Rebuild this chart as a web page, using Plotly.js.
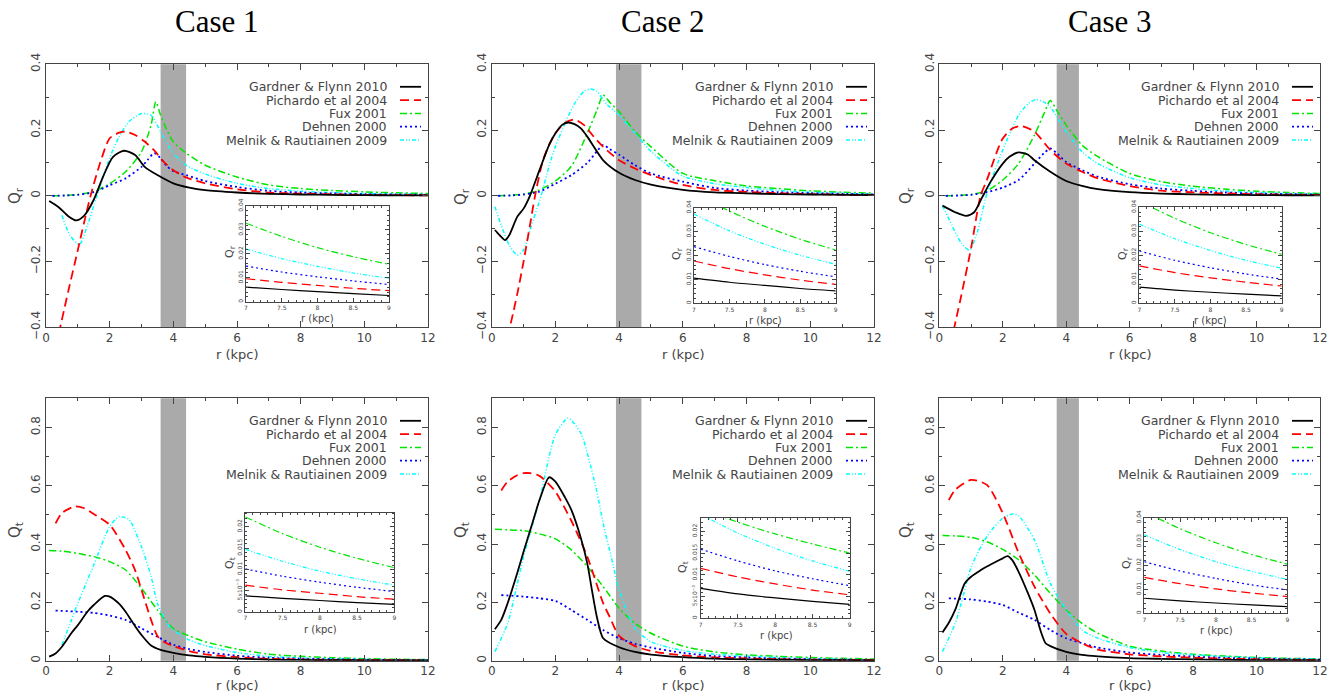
<!DOCTYPE html>
<html>
<head>
<meta charset="utf-8">
<script src="https://cdn.plot.ly/plotly-3.0.1.min.js"></script>
<style>html,body{margin:0;padding:0;background:#fff;}#chart{width:1330px;height:692px;}</style>
</head>
<body>
<div id="chart"></div>
<script>
// ---------------- DATA ----------------
const seriesNames = ['Gardner & Flynn 2010','Pichardo et al 2004','Fux 2001','Dehnen 2000','Melnik & Rautiainen 2009'];
const caseTitles = ['Case 1','Case 2','Case 3'];
const bands = [[3.6,4.4],[3.9,4.7],[3.7,4.4]];

// Case 1, Q_r
const c1qr_gf_r = [0.1,0.4,0.7,0.95,1.2,1.5,1.8,2.1,2.45,2.8,3.1,3.5,4.0,4.5,5,6,7,8,9,10,11,12];
const c1qr_gf_v = [-0.016,-0.035,-0.062,-0.075,-0.06,-0.012,0.06,0.118,0.137,0.124,0.088,0.063,0.038,0.025,0.017,0.01,0.006,0.004,0.0027,0.002,0.0015,0.001];
const c1qr_pi_r = [0.4,0.7,1.0,1.2,1.4,1.7,2.0,2.3,2.5,2.8,3.1,3.4,3.7,4.0,4.4,5,6,7,8,9,10,11,12];
const c1qr_pi_v = [-0.42,-0.29,-0.165,-0.08,0.0,0.1,0.175,0.192,0.195,0.185,0.165,0.138,0.103,0.078,0.056,0.038,0.02,0.0096,0.0068,0.0046,0.003,0.002,0.0015];
const c1qr_fux_r = [0.2,0.6,1.0,1.5,2.0,2.5,3.0,3.3,3.45,3.6,3.8,4.0,4.4,5,6,7,8,9,10,11,12];
const c1qr_fux_v = [0,0.001,0.004,0.013,0.037,0.073,0.134,0.215,0.286,0.245,0.2,0.164,0.13,0.093,0.057,0.033,0.022,0.016,0.012,0.009,0.007];
const c1qr_deh_r = [0.2,0.6,1.0,1.5,2.0,2.5,3.0,3.2,3.4,3.6,3.8,4.0,4.4,5,6,7,8,9,10,11,12];
const c1qr_deh_v = [0,0.001,0.003,0.011,0.032,0.053,0.088,0.11,0.13,0.114,0.09,0.075,0.063,0.045,0.027,0.015,0.01,0.0072,0.005,0.004,0.003];
const c1qr_mel_r = [0.5,0.75,1.05,1.3,1.6,2.0,2.3,2.6,3.0,3.3,3.6,4.0,4.4,5,6,7,8,9,10,11,12];
const c1qr_mel_v = [-0.059,-0.12,-0.148,-0.09,0.0,0.115,0.18,0.225,0.25,0.245,0.195,0.129,0.093,0.066,0.038,0.022,0.014,0.0098,0.007,0.005,0.004];

// Case 2, Q_r
const c2qr_gf_r = [0.1,0.25,0.42,0.55,0.8,1.0,1.2,1.5,1.8,2.0,2.2,2.4,2.6,2.8,3.0,3.5,4.0,4.5,5,6,7,8,9,10,11,12];
const c2qr_gf_v = [-0.104,-0.12,-0.135,-0.12,-0.064,-0.039,0.0,0.078,0.154,0.19,0.215,0.223,0.218,0.205,0.18,0.108,0.07,0.048,0.034,0.018,0.0105,0.0075,0.0052,0.004,0.003,0.002];
const c2qr_pi_r = [0.5,0.8,1.0,1.2,1.36,1.6,1.8,2.0,2.3,2.6,2.9,3.2,3.5,4.0,4.5,5,6,7,8,9,10,11,12];
const c2qr_pi_v = [-0.43,-0.3,-0.2,-0.09,0.0,0.105,0.155,0.19,0.222,0.232,0.215,0.18,0.149,0.108,0.083,0.063,0.033,0.0177,0.0118,0.0079,0.005,0.0035,0.0025];
const c2qr_fux_r = [0.2,0.6,1.0,1.5,2.0,2.5,3.0,3.3,3.5,3.7,4.0,4.5,5,6,7,8,9,10,11,12];
const c2qr_fux_v = [0,0.002,0.005,0.018,0.045,0.09,0.19,0.26,0.306,0.285,0.256,0.195,0.149,0.068,0.046,0.03,0.022,0.015,0.011,0.008];
const c2qr_deh_r = [0.2,0.6,1.0,1.5,2.0,2.5,3.0,3.3,3.5,3.7,4.0,4.5,5,6,7,8,9,10,11,12];
const c2qr_deh_v = [0,0.001,0.004,0.013,0.037,0.063,0.1,0.135,0.155,0.142,0.125,0.093,0.068,0.043,0.024,0.016,0.011,0.008,0.006,0.004];
const c2qr_mel_r = [0.1,0.3,0.55,0.8,1.0,1.2,1.55,1.8,2.0,2.3,2.6,2.9,3.1,3.3,3.6,4.0,4.5,5,6,7,8,9,10,11,12];
const c2qr_mel_v = [-0.033,-0.09,-0.15,-0.18,-0.165,-0.104,0.0,0.09,0.15,0.22,0.28,0.318,0.325,0.318,0.28,0.245,0.19,0.135,0.06,0.037,0.025,0.0163,0.011,0.008,0.005];

// Case 3, Q_r
const c3qr_gf_r = [0.1,0.5,0.85,1.1,1.35,1.6,2.0,2.2,2.5,2.8,3.0,3.5,4.0,4.5,5,6,7,8,9,10,11,12];
const c3qr_gf_v = [-0.03,-0.05,-0.061,-0.05,-0.005,0.04,0.098,0.118,0.132,0.125,0.108,0.073,0.045,0.03,0.02,0.011,0.0067,0.0045,0.0031,0.0022,0.0016,0.001];
const c3qr_pi_r = [0.45,0.7,1.0,1.3,1.5,1.8,2.0,2.3,2.6,3.0,3.5,4.0,4.5,5,6,7,8,9,10,11,12];
const c3qr_pi_v = [-0.41,-0.3,-0.16,0.0,0.048,0.13,0.174,0.205,0.212,0.195,0.139,0.098,0.073,0.053,0.03,0.0156,0.0106,0.0072,0.005,0.0035,0.0025];
const c3qr_fux_r = [0.2,0.6,1.0,1.5,2.0,2.5,3.0,3.3,3.5,3.7,4.0,4.5,5,6,7,8,9,10,11,12];
const c3qr_fux_v = [0,0.001,0.004,0.015,0.048,0.098,0.185,0.25,0.29,0.26,0.215,0.154,0.119,0.068,0.043,0.029,0.0204,0.014,0.01,0.007];
const c3qr_deh_r = [0.2,0.6,1.0,1.5,2.0,2.5,3.0,3.3,3.5,3.7,4.0,4.5,5,6,7,8,9,10,11,12];
const c3qr_deh_v = [0,0.001,0.003,0.011,0.025,0.048,0.098,0.13,0.144,0.13,0.103,0.078,0.058,0.035,0.022,0.015,0.0101,0.007,0.005,0.004];
const c3qr_mel_r = [0.1,0.4,0.7,0.95,1.2,1.5,2.0,2.5,2.8,3.05,3.3,3.5,4.0,4.5,5,6,7,8,9,10,11,12];
const c3qr_mel_v = [-0.03,-0.09,-0.145,-0.165,-0.11,0.007,0.139,0.245,0.28,0.293,0.285,0.27,0.195,0.134,0.098,0.055,0.033,0.022,0.0146,0.01,0.007,0.005];

// Case 1, Q_t
const c1qt_gf_r = [0.1,0.3,0.5,0.8,1.0,1.3,1.5,1.85,2.0,2.3,2.5,2.8,3.0,3.3,3.6,4.0,4.5,5,6,7,8,9,10,11,12];
const c1qt_gf_v = [0.014,0.025,0.048,0.095,0.122,0.168,0.191,0.222,0.22,0.195,0.168,0.118,0.088,0.052,0.037,0.027,0.018,0.013,0.007,0.0038,0.0027,0.0018,0.0013,0.001,0.0008];
const c1qt_pi_r = [0.3,0.5,0.9,1.2,1.5,2.0,2.5,2.8,3.0,3.3,3.5,3.7,4.0,4.5,5,6,7,8,9,10,11,12];
const c1qt_pi_v = [0.471,0.506,0.529,0.523,0.503,0.466,0.38,0.31,0.243,0.14,0.085,0.065,0.05,0.033,0.022,0.012,0.0063,0.0044,0.003,0.002,0.0015,0.001];
const c1qt_fux_r = [0.1,0.5,1.0,1.5,2.0,2.5,3.0,3.5,4.0,4.5,5,6,7,8,9,10,11,12];
const c1qt_fux_v = [0.378,0.376,0.368,0.357,0.34,0.311,0.248,0.174,0.11,0.085,0.065,0.04,0.0223,0.015,0.0104,0.007,0.005,0.004];
const c1qt_deh_r = [0.3,1.0,1.5,2.0,2.5,3.0,3.5,4.0,4.5,5,6,7,8,9,10,11,12];
const c1qt_deh_v = [0.172,0.168,0.164,0.155,0.14,0.111,0.082,0.055,0.04,0.03,0.017,0.0101,0.007,0.0048,0.0033,0.0024,0.0017];
const c1qt_mel_r = [0.5,0.8,1.0,1.5,2.0,2.3,2.6,3.0,3.3,3.5,3.8,4.0,4.5,5,6,7,8,9,10,11,12];
const c1qt_mel_v = [0.054,0.14,0.197,0.328,0.46,0.494,0.485,0.391,0.29,0.197,0.128,0.105,0.071,0.052,0.028,0.0147,0.0096,0.0063,0.0045,0.0033,0.0025];

// Case 2, Q_t
const c2qt_gf_r = [0.1,0.3,0.5,0.8,1.0,1.3,1.5,1.8,2.0,2.3,2.5,2.8,3.0,3.15,3.3,3.5,4.0,4.5,5,6,7,8,9,10,11,12];
const c2qt_gf_v = [0.108,0.14,0.197,0.3,0.374,0.48,0.551,0.629,0.614,0.56,0.517,0.42,0.334,0.24,0.151,0.077,0.046,0.03,0.021,0.012,0.0069,0.0047,0.0032,0.0023,0.0017,0.0012];
const c2qt_pi_r = [0.3,0.5,0.8,1.0,1.2,1.5,1.8,2.0,2.5,3.0,3.5,3.7,4.0,4.5,5,6,7,8,9,10,11,12];
const c2qt_pi_v = [0.584,0.614,0.636,0.643,0.643,0.634,0.605,0.58,0.48,0.357,0.197,0.151,0.085,0.05,0.033,0.018,0.0115,0.0079,0.0054,0.0037,0.0026,0.0018];
const c2qt_fux_r = [0.1,0.5,1.0,1.5,2.0,2.5,3.0,3.5,4.0,4.5,5,6,7,8,9,10,11,12];
const c2qt_fux_v = [0.451,0.449,0.446,0.435,0.418,0.38,0.323,0.254,0.18,0.128,0.094,0.05,0.03,0.02,0.015,0.011,0.008,0.006];
const c2qt_deh_r = [0.3,1.0,1.5,2.0,2.5,3.0,3.5,4.0,4.5,5,6,7,8,9,10,11,12];
const c2qt_deh_v = [0.225,0.22,0.214,0.205,0.174,0.14,0.105,0.077,0.058,0.045,0.027,0.0159,0.011,0.0075,0.005,0.0035,0.0025];
const c2qt_mel_r = [0.1,0.5,1.0,1.5,2.0,2.4,2.8,3.0,3.3,3.5,3.8,4.0,4.5,5,6,7,8,9,10,11,12];
const c2qt_mel_v = [0.031,0.128,0.357,0.551,0.775,0.832,0.78,0.712,0.58,0.471,0.334,0.243,0.111,0.065,0.035,0.022,0.016,0.0108,0.007,0.005,0.003];

// Case 3, Q_t
const c3qt_gf_r = [0.1,0.3,0.5,0.8,1.0,1.3,1.5,1.8,2.0,2.15,2.3,2.5,2.8,3.0,3.2,3.35,3.5,4.0,4.5,5,6,7,8,9,10,11,12];
const c3qt_gf_v = [0.097,0.13,0.174,0.265,0.288,0.31,0.323,0.34,0.351,0.359,0.345,0.305,0.23,0.174,0.1,0.06,0.05,0.03,0.02,0.015,0.009,0.0063,0.0043,0.0028,0.002,0.0015,0.001];
const c3qt_pi_r = [0.3,0.5,1.0,1.5,2.0,2.5,3.0,3.5,4.0,4.5,5,6,7,8,9,10,11,12];
const c3qt_pi_v = [0.551,0.586,0.62,0.603,0.506,0.37,0.254,0.162,0.092,0.06,0.038,0.022,0.015,0.0102,0.007,0.005,0.0035,0.0025];
const c3qt_fux_r = [0.1,0.5,1.0,1.5,2.0,2.5,3.0,3.5,4.0,4.5,5,6,7,8,9,10,11,12];
const c3qt_fux_v = [0.429,0.428,0.423,0.408,0.382,0.346,0.294,0.231,0.174,0.128,0.094,0.05,0.033,0.022,0.016,0.011,0.008,0.006];
const c3qt_deh_r = [0.3,1.0,1.5,2.0,2.5,3.0,3.5,4.0,4.5,5,6,7,8,9,10,11,12];
const c3qt_deh_v = [0.214,0.21,0.203,0.191,0.165,0.14,0.105,0.077,0.06,0.045,0.028,0.02,0.014,0.0098,0.007,0.005,0.0035];
const c3qt_mel_r = [0.1,0.5,0.7,1.0,1.5,2.0,2.3,2.5,3.0,3.5,4.0,4.5,5,6,7,8,9,10,11,12];
const c3qt_mel_v = [0.031,0.128,0.2,0.32,0.426,0.489,0.503,0.497,0.414,0.265,0.174,0.105,0.077,0.045,0.028,0.02,0.0142,0.01,0.007,0.005];

// Insets (r = 7 .. 9 kpc)
const insetR = [7,7.5,8,8.5,9];
const in1qr_gf = [0.0061,0.0051,0.0042,0.0034,0.0026];
const in1qr_pi = [0.0096,0.0081,0.0068,0.0056,0.0046];
const in1qr_fux = [0.0328,0.0273,0.0226,0.0188,0.0156];
const in1qr_deh = [0.0149,0.0124,0.0104,0.0087,0.0072];
const in1qr_mel = [0.0220,0.0180,0.0148,0.0120,0.0098];
const in2qr_gf = [0.0105,0.0088,0.0075,0.0062,0.0052];
const in2qr_pi = [0.0177,0.0145,0.0119,0.0097,0.0079];
const in2qr_fux = [0.0463,0.0386,0.0322,0.0268,0.0223];
const in2qr_deh = [0.0237,0.0196,0.0162,0.0134,0.0111];
const in2qr_mel = [0.0373,0.0303,0.0247,0.0201,0.0163];
const in3qr_gf = [0.0067,0.0055,0.0046,0.0038,0.0031];
const in3qr_pi = [0.0156,0.0128,0.0106,0.0088,0.0072];
const in3qr_fux = [0.0425,0.0354,0.0294,0.0245,0.0204];
const in3qr_deh = [0.0218,0.0179,0.0148,0.0122,0.0101];
const in3qr_mel = [0.0330,0.0269,0.0220,0.0179,0.0146];
const in1qt_gf = [0.0038,0.0032,0.0027,0.0022,0.0018];
const in1qt_pi = [0.0063,0.0052,0.0044,0.0036,0.0030];
const in1qt_fux = [0.0223,0.0184,0.0152,0.0126,0.0104];
const in1qt_deh = [0.0101,0.0084,0.0070,0.0058,0.0048];
const in1qt_mel = [0.0147,0.0119,0.0096,0.0078,0.0063];
const in2qt_gf = [0.0069,0.0056,0.0047,0.0039,0.0032];
const in2qt_pi = [0.0115,0.0095,0.0079,0.0065,0.0054];
const in2qt_fux = [0.0252,0.0221,0.0194,0.0171,0.0150];
const in2qt_deh = [0.0159,0.0132,0.0109,0.0091,0.0075];
const in2qt_mel = [0.0239,0.0196,0.0161,0.0132,0.0108];
const in3qt_gf = [0.0063,0.0052,0.0043,0.0035,0.0028];
const in3qt_pi = [0.0150,0.0124,0.0102,0.0085,0.0070];
const in3qt_fux = [0.0425,0.0354,0.0295,0.0246,0.0206];
const in3qt_deh = [0.0216,0.0177,0.0146,0.0119,0.0098];
const in3qt_mel = [0.0328,0.0267,0.0216,0.0176,0.0142];

const mainTickX = [0,2,4,6,8,10,12];
const qrTicks = [-0.4,-0.2,0,0.2,0.4];
const qrTickText = ['−0.4','−0.2','0','0.2','0.4'];
const qtTicks = [0,0.2,0.4,0.6,0.8];
const qtTickText = ['0','0.2','0.4','0.6','0.8'];
const insetXTicks = [7,7.5,8,8.5,9];
const insetXText = ['7','7.5','8','8.5','9'];
const insetYTicksA = [0,0.01,0.02,0.03,0.04];
const insetYTextA = ['0','0.01','0.02','0.03','0.04'];
const insetYTicksB = [0,0.005,0.01,0.015,0.02];
const insetYTextB = ['0','5x10<sup>−3</sup>','0.01','0.015','0.02'];
const mainYTitles = ['Q<sub>r</sub>','Q<sub>r</sub>','Q<sub>r</sub>','Q<sub>t</sub>','Q<sub>t</sub>','Q<sub>t</sub>'];
const insetYTitles = ['Q<sub>r</sub>','Q<sub>r</sub>','Q<sub>r</sub>','Q<sub>t</sub>','Q<sub>t</sub>','Q<sub>r</sub>'];
const xTitle = 'r (kpc)';

// ---------------- STYLE ----------------
const colors = ['#000000','#ff0000','#00e600','#0000ff','#00ffff'];
const dashes = ['solid','9px,5px','7px,3px,2px,3px','2px,3px','4px,2px,1px,2px,1px,2px'];
const widths = [1.8,1.8,1.5,1.8,1.5];
const W = 1330, H = 692;
const TXT = '#444';
const FONT = 'DejaVu Sans, Liberation Sans, sans-serif';

// panel pixel boxes [left, right, top, bottom]
const mainBoxes = [
  [46,428,64.3,327.3],[491.7,874,64.3,327.3],[939.3,1320,64.3,327.3],
  [46,428,398.3,660.7],[491.7,874,398.3,660.7],[939.3,1320,398.3,660.7]
];
const insetBoxes = [
  [246,389,206,301.7],[694,835.7,207.7,303.3],[1139.3,1281.7,207.3,303.3],
  [245.3,394.3,512.7,612],[700.7,849.7,518.3,618.3],[1144.3,1287.3,517.7,613.3]
];
// positions of axis-title texts [x, y] in pixels
const mainXTitlePos = [[237,354],[683,354],[1130,354],[237,685.5],[683,685.5],[1130,685.5]];
const mainYTitlePos = [[15,196],[461,196],[906,196],[15,530],[461,530],[906,530]];
const insetXTitlePos = [[317,318],[765,320],[1210,320],[320,629],[776,635],[1216,630]];
const insetYTitlePos = [[230,252],[677,254],[1123,254],[230,563],[683,567],[1127,563]];

const dx = b => [b[0]/W, b[1]/W];
const dy = b => [1-b[3]/H, 1-b[2]/H];
const px = x => x/W;
const py = y => 1-y/H;

const mainData = [
  [[c1qr_gf_r,c1qr_gf_v],[c1qr_pi_r,c1qr_pi_v],[c1qr_fux_r,c1qr_fux_v],[c1qr_deh_r,c1qr_deh_v],[c1qr_mel_r,c1qr_mel_v]],
  [[c2qr_gf_r,c2qr_gf_v],[c2qr_pi_r,c2qr_pi_v],[c2qr_fux_r,c2qr_fux_v],[c2qr_deh_r,c2qr_deh_v],[c2qr_mel_r,c2qr_mel_v]],
  [[c3qr_gf_r,c3qr_gf_v],[c3qr_pi_r,c3qr_pi_v],[c3qr_fux_r,c3qr_fux_v],[c3qr_deh_r,c3qr_deh_v],[c3qr_mel_r,c3qr_mel_v]],
  [[c1qt_gf_r,c1qt_gf_v],[c1qt_pi_r,c1qt_pi_v],[c1qt_fux_r,c1qt_fux_v],[c1qt_deh_r,c1qt_deh_v],[c1qt_mel_r,c1qt_mel_v]],
  [[c2qt_gf_r,c2qt_gf_v],[c2qt_pi_r,c2qt_pi_v],[c2qt_fux_r,c2qt_fux_v],[c2qt_deh_r,c2qt_deh_v],[c2qt_mel_r,c2qt_mel_v]],
  [[c3qt_gf_r,c3qt_gf_v],[c3qt_pi_r,c3qt_pi_v],[c3qt_fux_r,c3qt_fux_v],[c3qt_deh_r,c3qt_deh_v],[c3qt_mel_r,c3qt_mel_v]]
];
const insetData = [
  [in1qr_gf,in1qr_pi,in1qr_fux,in1qr_deh,in1qr_mel],
  [in2qr_gf,in2qr_pi,in2qr_fux,in2qr_deh,in2qr_mel],
  [in3qr_gf,in3qr_pi,in3qr_fux,in3qr_deh,in3qr_mel],
  [in1qt_gf,in1qt_pi,in1qt_fux,in1qt_deh,in1qt_mel],
  [in2qt_gf,in2qt_pi,in2qt_fux,in2qt_deh,in2qt_mel],
  [in3qt_gf,in3qt_pi,in3qt_fux,in3qt_deh,in3qt_mel]
];
// draw order: fux, mel, deh, pi, gf (black on top)
const order = [2,4,3,1,0];

const traces = [];
const layout = {
  width: W, height: H, margin: {l:0,r:0,t:0,b:0},
  paper_bgcolor: '#fff', plot_bgcolor: '#fff',
  showlegend: false, shapes: [], annotations: [],
  font: {family: FONT, color: TXT}
};

function axName(i){ return i===1 ? '' : String(i); }
function note(x, y, text, size, angle, extra) {
  return Object.assign({xref:'paper', yref:'paper', x: px(x), y: py(y), xanchor:'center', yanchor:'middle',
    showarrow:false, text: text, textangle: angle || 0, font:{family: FONT, size: size, color: TXT}}, extra || {});
}

for (let p = 0; p < 6; p++) {
  const n = p + 1, s = axName(n);
  const b = mainBoxes[p];
  const isQr = p < 3;
  layout['xaxis'+s] = {
    domain: dx(b), anchor: 'y'+s, range: [0,12],
    tickvals: mainTickX, ticks: 'inside', ticklen: 6, tickwidth: 1, tickcolor: '#444',
    minor: {dtick: 1, tick0: 0, ticks: 'inside', ticklen: 3, tickcolor: '#444'},
    showline: true, linecolor: '#444', linewidth: 1, mirror: 'ticks',
    showgrid: false, zeroline: false, ticklabelstandoff: -1,
    tickfont: {family: FONT, size: 12, color: TXT}
  };
  layout['yaxis'+s] = {
    domain: dy(b), anchor: 'x'+s, range: isQr ? [-0.4,0.4] : [0,0.9],
    tickvals: isQr ? qrTicks : qtTicks, ticktext: isQr ? qrTickText : qtTickText,
    ticks: 'inside', ticklen: 6, tickwidth: 1, tickcolor: '#444',
    minor: {dtick: 0.1, tick0: 0, ticks: 'inside', ticklen: 3, tickcolor: '#444'},
    showline: true, linecolor: '#444', linewidth: 1, mirror: 'ticks',
    showgrid: false, zeroline: false, tickangle: -90,
    tickfont: {family: FONT, size: 12, color: TXT}
  };
  layout.annotations.push(note(mainXTitlePos[p][0], mainXTitlePos[p][1], xTitle, 13, 0));
  layout.annotations.push(note(mainYTitlePos[p][0], mainYTitlePos[p][1], mainYTitles[p], 15, -90));
  // grey band
  const bd = bands[p % 3];
  layout.shapes.push({type:'rect', xref:'x'+s, yref:'y'+s+' domain', x0: bd[0], x1: bd[1], y0: 0, y1: 1,
    fillcolor: '#aaaaaa', line: {width: 0}, layer: 'below'});
  // curves
  for (const k of order) {
    traces.push({
      type: 'scatter', mode: 'lines', x: mainData[p][k][0], y: mainData[p][k][1],
      xaxis: 'x'+s, yaxis: 'y'+s, name: seriesNames[k],
      line: {color: colors[k], width: widths[k], dash: dashes[k], shape: 'spline', smoothing: 0.7}
    });
  }
  // legend (text right-aligned, line sample on its right)
  for (let k = 0; k < 5; k++) {
    const yy = b[2] + 22.5 + k*13.3;
    layout.annotations.push(note(b[1]-39, yy, seriesNames[k], 12.5, 0, {xanchor:'right'}));
    layout.shapes.push({type:'line', xref:'paper', yref:'paper', x0: px(b[1]-28), x1: px(b[1]-7),
      y0: py(yy), y1: py(yy), line:{color: colors[k], width: widths[k], dash: dashes[k]}});
  }

  // inset
  const m = p + 7, si = String(m);
  const ib = insetBoxes[p];
  const useB = (p === 3 || p === 4);
  const yRange = p === 3 ? [0,0.0233] : (p === 4 ? [0,0.023] : [0,0.04]);
  layout['xaxis'+si] = {
    domain: dx(ib), anchor: 'y'+si, range: [7,9],
    tickvals: insetXTicks, ticktext: insetXText,
    ticks: 'inside', ticklen: 4, tickcolor: '#444',
    minor: {dtick: 0.1, tick0: 7, ticks: 'inside', ticklen: 2, tickcolor: '#444'},
    showline: true, linecolor: '#444', linewidth: 1, mirror: 'ticks',
    showgrid: false, zeroline: false,
    tickfont: {family: FONT, size: 6, color: TXT}
  };
  layout['yaxis'+si] = {
    domain: dy(ib), anchor: 'x'+si, range: yRange,
    tickvals: useB ? insetYTicksB : insetYTicksA, ticktext: useB ? insetYTextB : insetYTextA,
    ticks: 'inside', ticklen: 4, tickcolor: '#444',
    minor: {dtick: useB ? 0.001 : 0.002, tick0: 0, ticks: 'inside', ticklen: 2, tickcolor: '#444'},
    showline: true, linecolor: '#444', linewidth: 1, mirror: 'ticks',
    showgrid: false, zeroline: false, tickangle: -90,
    tickfont: {family: FONT, size: 6, color: TXT}
  };
  layout.annotations.push(note(insetXTitlePos[p][0], insetXTitlePos[p][1], xTitle, 10, 0));
  layout.annotations.push(note(insetYTitlePos[p][0], insetYTitlePos[p][1], insetYTitles[p], 11, -90));
  for (const k of order) {
    traces.push({
      type: 'scatter', mode: 'lines', x: insetR, y: insetData[p][k],
      xaxis: 'x'+si, yaxis: 'y'+si, name: seriesNames[k],
      line: {color: colors[k], width: 1.2, dash: dashes[k], shape: 'spline', smoothing: 0.8}
    });
  }
}

// case titles
for (let c = 0; c < 3; c++) {
  const b = mainBoxes[c];
  layout.annotations.push({xref:'paper', yref:'paper', x: px((b[0]+b[1])/2 - 20), y: py(21),
    xanchor:'center', yanchor:'middle', showarrow:false, text: caseTitles[c],
    font:{family:'Liberation Serif, Times New Roman, serif', size: 31, color:'#000'}});
}

Plotly.newPlot('chart', traces, layout, {displayModeBar: false, staticPlot: true});
</script>
</body>
</html>
